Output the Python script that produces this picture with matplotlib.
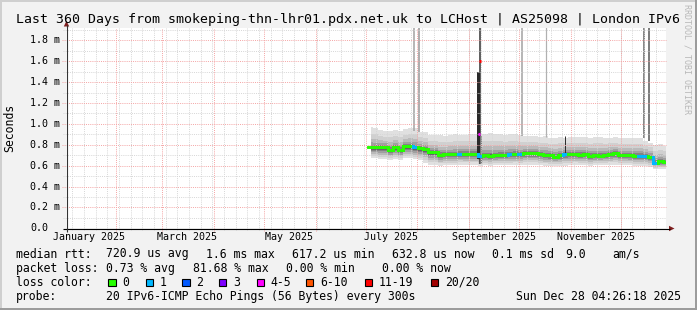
import numpy as np
import matplotlib
matplotlib.use("Agg")
import matplotlib.pyplot as plt
import matplotlib.dates as mdates
from matplotlib.patches import Rectangle, Polygon
from matplotlib.collections import LineCollection
from datetime import datetime, timedelta

# ---------------- data ----------------
title = "Last 360 Days from smokeping-thn-lhr01.pdx.net.uk to LCHost | AS25098 | London IPv6"
y_ticks = [0.0, 0.2, 0.4, 0.6, 0.8, 1.0, 1.2, 1.4, 1.6, 1.8]
y_tick_labels = ["0.0", "0.2 m", "0.4 m", "0.6 m", "0.8 m", "1.0 m", "1.2 m", "1.4 m", "1.6 m", "1.8 m"]
x_label_months = ["2025-01-01", "2025-03-01", "2025-05-01", "2025-07-01", "2025-09-01", "2025-11-01"]
x_labels = ["January 2025", "March 2025", "May 2025", "July 2025", "September 2025", "November 2025"]

sample_start = "2025-07-04"
sample_step_days = 3
median_ms = [0.774, 0.774, 0.774, 0.774, 0.752, 0.777, 0.752, 0.784, 0.787, 0.777,
             0.768, 0.761, 0.729, 0.726, 0.703, 0.710, 0.710, 0.710, 0.716, 0.713,
             0.713, 0.713, 0.697, 0.700, 0.697, 0.700, 0.703, 0.706, 0.710, 0.713,
             0.710, 0.723, 0.723, 0.719, 0.710, 0.703, 0.700, 0.687, 0.700, 0.710,
             0.710, 0.713, 0.706, 0.710, 0.697, 0.700, 0.697, 0.703, 0.713, 0.719,
             0.703, 0.703, 0.700, 0.697, 0.697, 0.694, 0.684, 0.629, 0.642, 0.639]
loss_class = [0, 0, 0, 0, 0, 0, 0, 0, 0, 1,
              0, 0, 0, 0, 0, 0, 0, 0, 1, 0,
              0, 0, 1, 0, 0, 0, 0, 0, 1, 0,
              1, 0, 0, 0, 0, 0, 0, 0, 0, 1,
              0, 0, 0, 0, 0, 0, 0, 0, 0, 0,
              0, 0, 0, 0, 1, 1, 0, 1, 0, 0]
smoke_hi = [0.97, 0.96, 0.94, 0.93, 0.93, 0.94, 0.93, 0.95, 0.96, 0.96,
            0.92, 0.92, 0.89, 0.89, 0.89, 0.88, 0.89, 0.90, 0.89, 0.89,
            0.90, 0.90, 0.90, 0.90, 0.91, 0.90, 0.90, 0.89, 0.90, 0.90,
            0.89, 0.88, 0.88, 0.88, 0.87, 0.88, 0.865, 0.865, 0.87, 0.865,
            0.87, 0.87, 0.87, 0.87, 0.865, 0.87, 0.87, 0.865, 0.865, 0.87,
            0.865, 0.86, 0.865, 0.86, 0.86, 0.84, 0.82, 0.80, 0.81, 0.79]
smoke_lo = [0.67, 0.67, 0.66, 0.66, 0.65, 0.66, 0.65, 0.67, 0.67, 0.66,
            0.65, 0.63, 0.61, 0.61, 0.60, 0.61, 0.61, 0.61, 0.61, 0.61,
            0.61, 0.61, 0.60, 0.61, 0.60, 0.61, 0.61, 0.61, 0.61, 0.61,
            0.61, 0.61, 0.61, 0.61, 0.61, 0.60, 0.60, 0.60, 0.60, 0.60,
            0.61, 0.61, 0.61, 0.61, 0.60, 0.61, 0.61, 0.61, 0.61, 0.61,
            0.61, 0.61, 0.61, 0.60, 0.60, 0.60, 0.59, 0.57, 0.57, 0.57]

spike_dates = ["2025-07-30 00:00", "2025-08-01 17:00", "2025-09-07 14:00", "2025-10-02 16:00",
               "2025-10-17 10:00", "2025-10-28 14:00", "2025-12-15 00:00", "2025-12-18 02:00"]
spike_lo = [0.93, 0.92, 0.62, 0.88, 0.87, 0.72, 0.86, 0.84]
spike_hi = [2.0, 2.0, 2.0, 2.0, 2.0, 0.88, 2.0, 2.0]

event_dates = ["2025-09-06 22:00", "2025-09-07 14:00"]
event_median = [0.90, 1.60]
event_loss = [4, 6]

loss_labels = ["0", "1", "2", "3", "4-5", "6-10", "11-19", "20/20"]
loss_colors = ["#26ff00", "#00b8ff", "#0059ff", "#7e00ff", "#ff00ff", "#ff5500", "#ff0000", "#a10000"]

stat_rows = [
    [(16, "median rtt:"), (106.3, "720.9 us avg"), (205.7, "1.6 ms max"), (292.3, "617.2 us min"),
     (392.3, "632.8 us now"), (492.3, "0.1 ms sd"), (565.7, "9.0"), (612.3, "am/s")],
    [(16, "packet loss:"), (106.3, "0.73 % avg"), (193.0, "81.68 % max"), (285.7, "0.00 % min"),
     (382.3, "0.00 % now")],
]
probe_text = "20 IPv6-ICMP Echo Pings (56 Bytes) every 300s"
stamp_text = "Sun Dec 28 04:26:18 2025"

# ---------------- layout ----------------
W, H = 697, 310
L, R, T, B = 66, 666, 28.3, 228.3
PX_PER_MS = 104.44
MONO = "DejaVu Sans Mono"

fig = plt.figure(figsize=(W / 100, H / 100), dpi=100)
fig.patch.set_facecolor("#f2f2f2")

ax = fig.add_axes([L / W, 1 - B / H, (R - L) / W, (B - T) / H])
ax.set_facecolor("white")
for s in ax.spines.values():
    s.set_visible(False)
ax.set_xticks([])
ax.set_yticks([])
t_end = datetime(2025, 12, 28, 4, 26, 18)
t_start = t_end - timedelta(days=360)
x0, x1 = mdates.date2num(t_start), mdates.date2num(t_end)
ymax = (B - T) / PX_PER_MS
ax.set_xlim(x0, x1)
ax.set_ylim(0, ymax)
dxp = (x1 - x0) / (R - L)
dyp = ymax / (B - T)

ts = mdates.date2num(np.datetime64(sample_start) + np.arange(len(median_ms)) * np.timedelta64(sample_step_days, "D"))
med = np.array(median_ms)
hi = np.array(smoke_hi)
lo = np.array(smoke_lo)

# smoke layers
fracs = [1.0, 0.8, 0.62, 0.46, 0.32, 0.2, 0.1]
shades = ["#e0e0e0", "#d0d0d0", "#bababa", "#a0a0a0", "#838383", "#656565", "#4a4a4a"]
for f, c in zip(fracs, shades):
    up = med + (hi - med) * f ** 1.8
    dn = med - (med - lo) * f
    ax.fill_between(ts, dn, up, step="mid", color=c, lw=0, zorder=2)

# spikes
spike_colors = ["#a6a6a6", "#9a9a9a", "#2e2e2e", "#a0a0a0", "#b0b0b0", "#303030", "#7c7c7c", "#707070"]
spike_w = [1.6, 1.6, 1.5, 1.5, 1.2, 1.0, 1.8, 1.8]
for d, a, b, c, w in zip(spike_dates, spike_lo, spike_hi, spike_colors, spike_w):
    xd = mdates.date2num(np.datetime64(d))
    ax.vlines(xd, a, b, color=c, lw=w * 0.72, zorder=3)
ev_x = mdates.date2num(np.datetime64(event_dates[0]))
ax.add_patch(Rectangle((ev_x - 1.5 * dxp, 0.66), 3 * dxp, 1.50 - 0.66, color="#2a2a2a", lw=0, zorder=3))
ax.add_patch(Rectangle((ev_x + 1.5 * dxp, 0.62), 1.6 * dxp, 0.88 - 0.62, color="#7a7a7a", lw=0, zorder=3))

# grid (dotted)
minor_c = "#d6d6d6"
major_c = "#f4a4a4"
dash = (0, (1, 1.2))
gkw = dict(lw=0.7, ls=dash, zorder=4, clip_on=False)
for k in range(1, 20):
    v = k * 0.1
    if v > ymax:
        break
    if k % 2 == 1:
        ax.plot([x0 - 3 * dxp, x1], [v, v], color=minor_c, **gkw)
wk = np.datetime64("2025-01-06")
while wk < np.datetime64("2025-12-28"):
    xv = mdates.date2num(wk)
    if xv > x0:
        ax.plot([xv, xv], [-2 * dyp, ymax], color=minor_c, **gkw)
    wk = wk + np.timedelta64(7, "D")
for v in y_ticks[1:]:
    ax.plot([x0 - 4 * dxp, x1], [v, v], color=major_c, **gkw)
for m in range(2, 13):
    xv = mdates.date2num(datetime(2025, m, 1))
    ax.plot([xv, xv], [-3 * dyp, ymax], color=major_c, **gkw)

# median line (steps, coloured by loss)
segs, cols = [], []
half = sample_step_days / 2.0
for i in range(len(ts)):
    segs.append([(ts[i] - half, med[i]), (ts[i] + half, med[i])])
    cols.append(loss_colors[loss_class[i]])
    if i + 1 < len(ts):
        segs.append([(ts[i] + half, med[i]), (ts[i] + half, med[i + 1])])
        cols.append(loss_colors[loss_class[i + 1]])
lc = LineCollection(segs, colors=cols, linewidths=2.1, capstyle="projecting", zorder=5)
ax.add_collection(lc)
for d, v, lcl in zip(event_dates, event_median, event_loss):
    xd = mdates.date2num(np.datetime64(d))
    ax.plot([xd - 0.6, xd + 0.6], [v, v], color=loss_colors[lcl], lw=2.1, solid_capstyle="butt", zorder=6)

# ---------------- overlay in pixel coordinates ----------------
ov = fig.add_axes([0, 0, 1, 1])
ov.set_xlim(0, W)
ov.set_ylim(H, 0)
ov.axis("off")
ov.patch.set_alpha(0)

ov.add_patch(Rectangle((0, 0), W, 2, color="#cfcfcf", lw=0))
ov.add_patch(Rectangle((0, 0), 2, H, color="#cfcfcf", lw=0))
ov.add_patch(Rectangle((0, H - 2.5), W, 2.5, color="#9c9c9c", lw=0))
ov.add_patch(Rectangle((W - 2.5, 0), 2.5, H, color="#9c9c9c", lw=0))

ov.plot([63, 670], [228.5, 228.5], color="black", lw=0.8, solid_capstyle="butt")
ov.plot([66.5, 66.5], [232, 25], color="#333333", lw=0.8, solid_capstyle="butt")
ov.add_patch(Polygon([(669, 225.8), (674.5, 228.5), (669, 231.2)], closed=True, color="#7f1f1f", lw=0))
ov.add_patch(Polygon([(63.8, 26.5), (66.5, 20.8), (69.2, 26.5)], closed=True, color="#7f1f1f", lw=0))

ov.text(W / 2, 19.3, title, ha="center", va="center", fontsize=9.5, family=MONO, color="black")
ov.text(687.5, 59, "RRDTOOL / TOBI OETIKER", ha="center", va="center", rotation=270,
        fontsize=6, family=MONO, color="#b8b8b8")
ov.text(10, 127.7, "Seconds", ha="center", va="center", rotation=90, fontsize=8.3, family=MONO)
for v, lab in zip(y_ticks, y_tick_labels):
    ov.text(30, B - v * PX_PER_MS, lab, ha="left", va="center", fontsize=7.2, family=MONO)
for m, lab in zip(x_label_months, x_labels):
    xm = mdates.date2num(np.datetime64(m)) + 15
    xp = L + (xm - x0) / dxp
    ov.text(xp, 236.7, lab, ha="center", va="center", fontsize=7.2, family=MONO)

row_y = [254.0, 268.3, 282.3, 296.3]
for row, yy in zip(stat_rows, row_y):
    for xx, txt in row:
        ov.text(xx, yy, txt, ha="left", va="center", fontsize=8.3, family=MONO)
ov.text(16, row_y[2], "loss color:", ha="left", va="center", fontsize=8.3, family=MONO)
box_x = [108.3, 145.7, 182.3, 219.0, 256.7, 306.0, 365.0, 430.7]
for bx, c, lab in zip(box_x, loss_colors, loss_labels):
    ov.add_patch(Rectangle((bx, row_y[2] - 3.8), 7.3, 7.3, facecolor=c, edgecolor="black", lw=0.8))
    ov.text(bx + 14.0, row_y[2], lab, ha="left", va="center", fontsize=8.3, family=MONO)
ov.text(16, row_y[3], "probe:", ha="left", va="center", fontsize=8.3, family=MONO)
ov.text(106.3, row_y[3], probe_text, ha="left", va="center", fontsize=8.3, family=MONO)
ov.text(681, row_y[3], stamp_text, ha="right", va="center", fontsize=8.3, family=MONO)

fig.savefig("out.png", dpi=100, facecolor=fig.get_facecolor())
